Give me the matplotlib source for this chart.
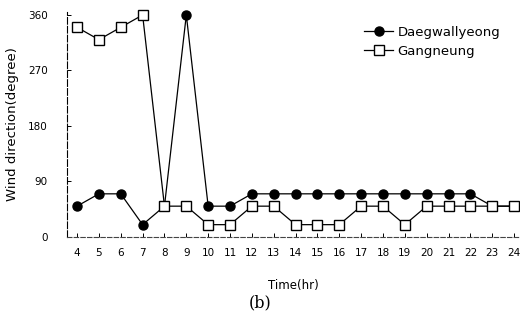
import matplotlib
matplotlib.use("Agg")
import matplotlib.pyplot as plt

# Hourly wind direction (degrees) at two stations
hours = list(range(4, 25))
daegwallyeong = [50, 70, 70, 20, 50, 360, 50, 50, 70, 70, 70, 70, 70, 70, 70, 70, 70, 70, 70, 50, 50]
gangneung = [340, 320, 340, 360, 50, 50, 20, 20, 50, 50, 20, 20, 20, 50, 50, 20, 50, 50, 50, 50, 50]
yticks = [0, 90, 180, 270, 360]

fig = plt.figure(figsize=(5.2, 3.22), dpi=100)
ax = fig.add_axes([67 / 520, 0.264, 453 / 520, 0.699])

ax.plot(hours, daegwallyeong, color='black', lw=0.9, marker='o', ms=6.5,
        mfc='black', mec='black', label='Daegwallyeong', clip_on=False, zorder=3)
ax.plot(hours, gangneung, color='black', lw=0.9, marker='s', ms=7.2,
        mfc='white', mec='black', mew=1.0, label='Gangneung', clip_on=False, zorder=4)

ax.set_xlim(3.54, 24.27)
ax.set_ylim(0, 365)
ax.set_xticks(hours)
ax.set_yticks(yticks)
ax.tick_params(axis='both', direction='in', length=3, width=0.7, labelsize=7.5)
ax.tick_params(axis='y', pad=14)
ax.tick_params(axis='x', pad=8)

for side in ('top', 'right'):
  ax.spines[side].set_visible(False)
ax.spines['left'].set_linestyle((0, (6, 2)))
ax.spines['left'].set_linewidth(0.8)
ax.spines['bottom'].set_linestyle((0, (4, 2)))
ax.spines['bottom'].set_linewidth(0.8)
ax.spines['bottom'].set_color('#444444')

ax.set_xlabel('Time(hr)', fontsize=8.5, labelpad=15)
ax.set_ylabel('Wind direction(degree)', fontsize=9.5, labelpad=6)

ax.legend(loc='upper left', bbox_to_anchor=(0.63, 0.99), frameon=False,
          fontsize=9.5, handlelength=2.2, handletextpad=0.3, labelspacing=0.45)

fig.text(0.5, 0.045, '(b)', ha='center', fontsize=11.5, family='DejaVu Serif')

fig.savefig('out.png', dpi=100)
